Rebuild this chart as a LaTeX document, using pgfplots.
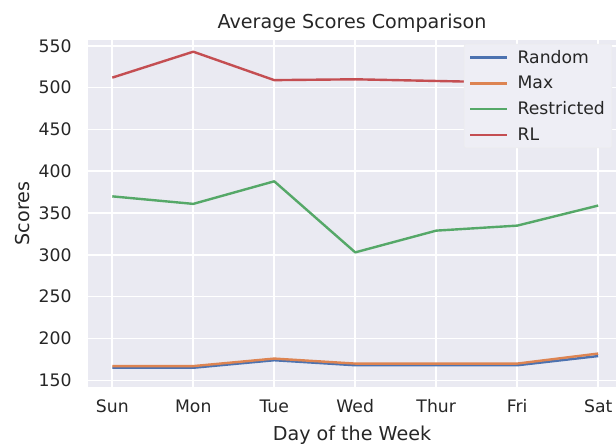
\documentclass[border=0pt]{standalone}
\usepackage{fontspec}
\setmainfont{DejaVu Sans}
\usepackage{pgfplots}
\pgfplotsset{compat=1.18}
\definecolor{sbbg}{HTML}{EAEAF2}
\definecolor{sbblue}{HTML}{4C72B0}
\definecolor{sborange}{HTML}{DD8452}
\definecolor{sbgreen}{HTML}{55A868}
\definecolor{sbred}{HTML}{C44E52}
\definecolor{txt}{HTML}{262626}
\begin{document}
\begin{tikzpicture}
\begin{axis}[
  name=ax,
  scale only axis,
  width=528bp, height=347bp,
  xmin=-0.3, xmax=6.22,
  ymin=142, ymax=557,
  axis background/.style={fill=sbbg},
  axis line style={draw=none},
  major tick length=0pt,
  xtick={0,1,2,3,4,5,6},
  xticklabels={Sun,Mon,Tue,Wed,Thur,Fri,Sat},
  ytick={150,200,250,300,350,400,450,500,550},
  grid=major,
  major grid style={white, line width=1.6bp},
  tick label style={font=\fontsize{17.3}{20}\selectfont, text=txt},
  /pgf/number format/assume math mode=true,
  xticklabel style={yshift=-9bp},
  yticklabel style={xshift=-13bp},
  xlabel={Day of the Week},
  ylabel={Scores},
  label style={font=\fontsize{19.2}{22}\selectfont, text=txt},
  xlabel style={yshift=-6bp},
  ylabel style={yshift=2bp},
  title={Average Scores Comparison},
  title style={font=\fontsize{19.2}{22}\selectfont, text=txt, yshift=-2bp},
  legend style={at={(1,1)}, anchor=north east, xshift=-4bp, yshift=-4bp,
    fill=sbbg!80!white, draw=white!85!gray, rounded corners=2bp,
    font=\fontsize{17.3}{20}\selectfont, text=txt,
    row sep=7.5bp, inner xsep=5bp, inner ysep=4bp},
  legend cell align=left,
  legend image code/.code={\draw[#1, line width=2.5bp] (0bp,0bp) -- (37bp,0bp); \path (44bp,0bp);},
  every axis plot/.append style={line width=2.4bp, line join=round},
]
\addplot[sbblue] coordinates {(0,165) (1,165) (2,174) (3,168) (4,168) (5,168) (6,179)};
\addlegendentry{Random}
\addplot[sborange] coordinates {(0,167) (1,167) (2,176) (3,170) (4,170) (5,170) (6,182)};
\addlegendentry{Max}
\addplot[sbgreen] coordinates {(0,370) (1,361) (2,388) (3,303) (4,329) (5,335) (6,359)};
\addlegendentry{Restricted}
\addplot[sbred] coordinates {(0,512) (1,543) (2,509) (3,510) (4,508) (5,506) (6,504)};
\addlegendentry{RL}
\end{axis}
\pgfresetboundingbox
\path[use as bounding box] ([xshift=-88bp,yshift=-58bp]ax.south west) rectangle ([yshift=40bp]ax.north east);
\end{tikzpicture}
\end{document}
